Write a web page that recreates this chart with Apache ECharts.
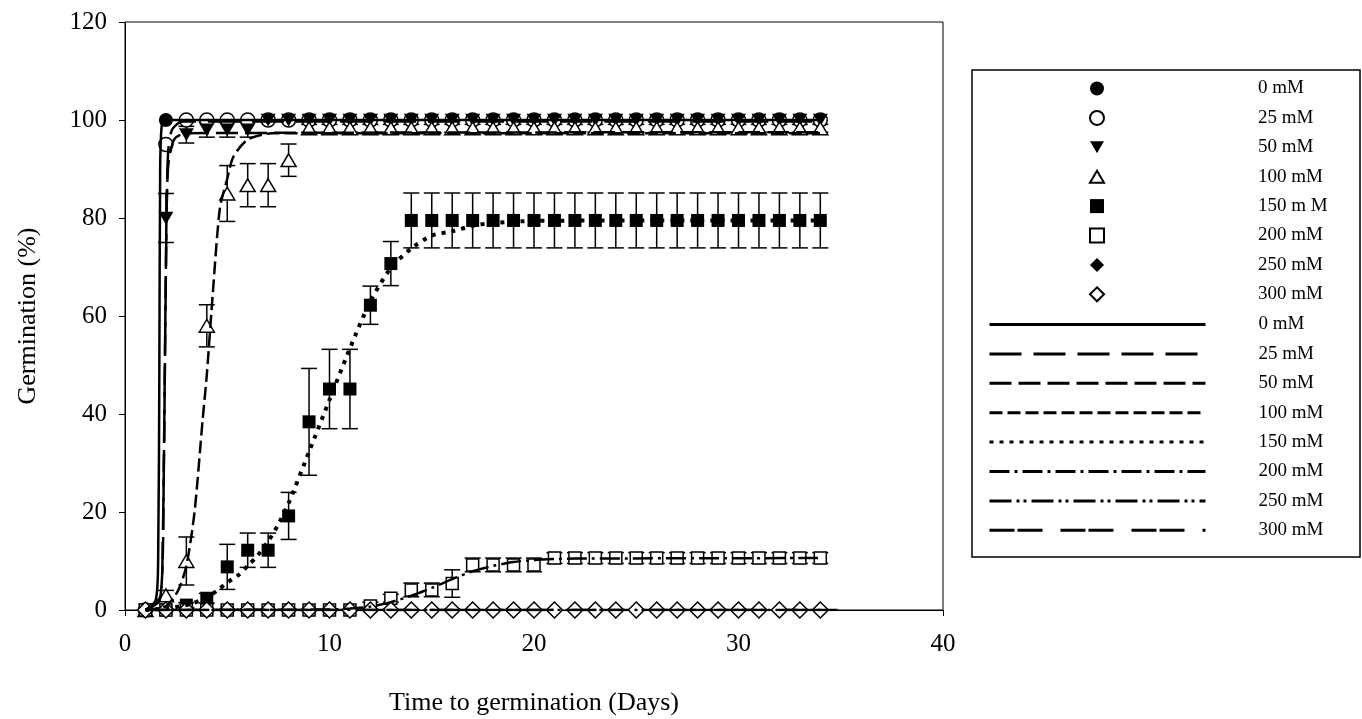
<!DOCTYPE html>
<html>
<head>
<meta charset="utf-8">
<script src="https://cdn.jsdelivr.net/npm/echarts@6/dist/echarts.min.js"></script>
<style>
  html, body { margin: 0; padding: 0; background: #fff; }
  #container { width: 1362px; height: 719px; }
</style>
</head>
<body>
<div id="container"></div>
<script>
var dom = document.getElementById("container");
var myChart = echarts.init(dom);

// observed germination (%) per day
var days = [1,2,3,4,5,6,7,8,9,10,11,12,13,14,15,16,17,18,19,20,21,22,23,24,25,26,27,28,29,30,31,32,33,34];
var g0   = [0,100,100,100,100,100,100,100,100,100,100,100,100,100,100,100,100,100,100,100,100,100,100,100,100,100,100,100,100,100,100,100,100,100];
var g25  = [0,95,100,100,100,100,100,100,100,100,100,100,100,100,100,100,100,100,100,100,100,100,100,100,100,100,100,100,100,100,100,100,100,100];
var g50  = [0,80,97,98,98,98,100,100,100,100,100,100,100,100,100,100,100,100,100,100,100,100,100,100,100,100,100,100,100,100,100,100,100,100];
var g100 = [0,3,10,58,85,86.7,86.7,91.8,98.3,98.3,98.3,98.3,98.3,98.3,98.3,98.3,98.3,98.3,98.3,98.3,98.3,98.3,98.3,98.3,98.3,98.3,98.3,98.3,98.3,98.3,98.3,98.3,98.3,98.3];
var g150 = [0,0,1,2.4,8.8,12.2,12.2,19.2,38.4,45.1,45.1,62.2,70.7,79.5,79.5,79.5,79.5,79.5,79.5,79.5,79.5,79.5,79.5,79.5,79.5,79.5,79.5,79.5,79.5,79.5,79.5,79.5,79.5,79.5];
var g200 = [0,0,0,0,0,0,0,0,0,0,0,0.8,2.4,4.1,4.1,5.4,9.2,9.2,9.2,9.2,10.6,10.6,10.6,10.6,10.6,10.6,10.6,10.6,10.6,10.6,10.6,10.6,10.6,10.6];
var g250 = [0,0,0,0,0,0,0,0,0,0,0,0,0,0,0,0,0,0,0,0,0,0,0,0,0,0,0,0,0,0,0,0,0,0];
var g300 = [0,0,0,0,0,0,0,0,0,0,0,0,0,0,0,0,0,0,0,0,0,0,0,0,0,0,0,0,0,0,0,0,0,0];

// error bar half-lengths
var e50  = [0,5,1.7,1.5,1.5,1.5,0,0,0,0,0,0,0,0,0,0,0,0,0,0,0,0,0,0,0,0,0,0,0,0,0,0,0,0];
var e100 = [0,1,4.9,4.3,5.7,4.4,4.4,3.3,0.8,0.8,0.8,0.8,0.8,0.8,0.8,0.8,0.8,0.8,0.8,0.8,0.8,0.8,0.8,0.8,0.8,0.8,0.8,0.8,0.8,0.8,0.8,0.8,0.8,0.8];
var e150 = [0,0,0.5,1,4.6,3.5,3.5,4.8,10.9,8.1,8.1,3.9,4.5,5.6,5.6,5.6,5.6,5.6,5.6,5.6,5.6,5.6,5.6,5.6,5.6,5.6,5.6,5.6,5.6,5.6,5.6,5.6,5.6,5.6];
var e200 = [0,0,0,0,0,0,0,0,0,0,0,0.8,0.8,1.4,1.4,2.8,1.4,1.4,1.4,1.4,1.1,1.1,1.1,1.1,1.1,1.1,1.1,1.1,1.1,1.1,1.1,1.1,1.1,1.1];

// fitted curves
var fit0x   = [1,1.5,1.62,1.68,1.72,1.8,2,34];
var fit0y   = [0,2,10,50,90,99,100,100];
var fit25x  = [1,1.7,1.85,1.95,2.05,2.12,2.3,2.8,34];
var fit25y  = [0,2,15,50,85,94,98,99.7,99.7];
var fit50x  = [1,1.75,1.9,2,2.1,2.4,3,34];
var fit50y  = [0,3,30,70,90,96,97.3,97.5];
var fit100x = [1,2,2.6,3,3.4,3.8,4,4.3,4.64,5,5.3,6,7.2,34];
var fit100y = [0,0.8,4,9,20,39,48,65,82,88,92.5,96,97.3,97.3];
var fit150x = [1,2,3,4,4.6,5,5.6,6,6.5,7,7.5,8,9,10,11,12,13,14,15,16,17,18,20,25,34];
var fit150y = [0,0.3,1,2.5,4.3,5.6,7.3,9,11.2,14,17.5,21.8,32.3,42.9,53.4,63,69.8,73.8,76.4,77.3,78.4,79,79.4,79.5,79.5];
var fit200x = [1,10,11,12,13,14,15,16,17,18,19,20,21,22,34];
var fit200y = [0,0.1,0.3,0.7,1.6,2.9,4.5,6.3,7.9,9,9.8,10.2,10.4,10.5,10.6];
var fit250x = [1,34];
var fit250y = [0,0];
var fit300x = [1,35];
var fit300y = [0,0];

var markerNames = ["0 mM", "25 mM", "50 mM", "100 mM", "150 m M", "200 mM", "250 mM", "300 mM"];
var lineNames = ["0 mM", "25 mM", "50 mM", "100 mM", "150 mM", "200 mM", "250 mM", "300 mM"];

var font = "Liberation Serif";
var downTri = "path://M0,0L20,0L10,17Z";
var upTri = "path://M10,0L20,17L0,17Z";

function pairs(xs, ys) {
  return xs.map(function (x, i) {
    return [x, ys[i]];
  });
}

function marker(name, values, symbol, size, filled) {
  return {
    name: name,
    type: "scatter",
    data: pairs(days, values),
    symbol: symbol,
    symbolSize: size,
    symbolKeepAspect: true,
    z: 3,
    itemStyle: filled
      ? { color: "#000", opacity: 1 }
      : { color: "#fff", borderColor: "#000", borderWidth: 1.5, opacity: 1 },
    emphasis: { disabled: true },
  };
}

function fitLine(name, xs, ys, dash, width) {
  return {
    name: name + " fit",
    type: "line",
    data: pairs(xs, ys),
    symbol: "none",
    smooth: 0.25,
    z: 4,
    itemStyle: { color: "#000" },
    lineStyle: { color: "#000", width: width || 2.5, type: dash, cap: "butt" },
  };
}

function errorBars(values, errs) {
  var data = [];
  days.forEach(function (d, i) {
    if (errs[i] > 0) data.push([d, values[i], errs[i]]);
  });
  return {
    type: "custom",
    z: 2,
    silent: true,
    data: data,
    renderItem: function (params, api) {
      var x = api.value(0);
      var y = api.value(1);
      var e = api.value(2);
      var top = api.coord([x, y + e]);
      var bot = api.coord([x, y - e]);
      var w = 8;
      var st = { stroke: "#000", lineWidth: 1.5 };
      return {
        type: "group",
        children: [
          { type: "line", shape: { x1: top[0], y1: top[1], x2: bot[0], y2: bot[1] }, style: st },
          { type: "line", shape: { x1: top[0] - w, y1: top[1], x2: top[0] + w, y2: top[1] }, style: st },
          { type: "line", shape: { x1: bot[0] - w, y1: bot[1], x2: bot[0] + w, y2: bot[1] }, style: st },
        ],
      };
    },
  };
}

var series = [
  errorBars(g50, e50),
  errorBars(g100, e100),
  errorBars(g150, e150),
  errorBars(g200, e200),
  marker(markerNames[0], g0, "circle", 14, true),
  marker(markerNames[1], g25, "circle", 14, false),
  marker(markerNames[2], g50, downTri, 15, true),
  marker(markerNames[3], g100, upTri, 15, false),
  marker(markerNames[4], g150, "rect", 13, true),
  marker(markerNames[5], g200, "rect", 12, false),
  marker(markerNames[6], g250, "diamond", 16, true),
  marker(markerNames[7], g300, "diamond", 16, false),
  fitLine(lineNames[0], fit0x, fit0y, "solid"),
  fitLine(lineNames[1], fit25x, fit25y, [32, 12]),
  fitLine(lineNames[2], fit50x, fit50y, [22, 7]),
  fitLine(lineNames[3], fit100x, fit100y, [13, 5]),
  fitLine(lineNames[4], fit150x, fit150y, [4, 6], 4),
  fitLine(lineNames[5], fit200x, fit200y, [20, 5, 3, 5]),
  fitLine(lineNames[6], fit250x, fit250y, [22, 5, 3, 4, 3, 5]),
  fitLine(lineNames[7], fit300x, fit300y, [25, 3, 25, 18]),
];

var option = {
  backgroundColor: "#fff",
  animation: false,
  textStyle: { fontFamily: font, color: "#000" },
  grid: {
    left: 125,
    top: 22,
    right: 419,
    bottom: 109,
    outerBoundsMode: "none",
    show: true,
    borderColor: "#000",
    borderWidth: 1,
  },
  graphic: [
    {
      type: "rect",
      shape: { x: 972, y: 70, width: 388, height: 487 },
      style: { fill: "none", stroke: "#000", lineWidth: 1.5 },
      z: 0,
    },
  ],
  legend: [
    {
      data: markerNames,
      orient: "vertical",
      left: 1089,
      top: 79,
      padding: 0,
      itemWidth: 14,
      itemHeight: 14,
      itemGap: 10.4,
      selectedMode: false,
      textStyle: {
        fontFamily: font,
        fontSize: 19,
        color: "#000",
        padding: [0, 0, 0, 149],
      },
    },
    {
      data: lineNames.map(function (n) { return n + " fit"; }),
      orient: "vertical",
      left: 988,
      top: 315,
      padding: 0,
      itemWidth: 216,
      itemHeight: 12,
      itemGap: 10.4,
      selectedMode: false,
      itemStyle: { opacity: 0, borderWidth: 0 },
      lineStyle: { width: 3, color: "#000" },
      formatter: function (name) {
        return name.replace(" fit", "");
      },
      textStyle: {
        fontFamily: font,
        fontSize: 19,
        color: "#000",
        padding: [0, 0, 0, 48],
      },
    },
  ],
  xAxis: {
    type: "value",
    min: 0,
    max: 40,
    interval: 10,
    name: "Time to germination (Days)",
    nameLocation: "middle",
    nameGap: 80,
    nameTextStyle: { fontFamily: font, fontSize: 26, color: "#000" },
    axisLine: { lineStyle: { color: "#000", width: 1 } },
    axisTick: { show: true, inside: false, length: 6, lineStyle: { color: "#000" } },
    axisLabel: { fontFamily: font, fontSize: 25, color: "#000", margin: 22 },
    splitLine: { show: false },
  },
  yAxis: {
    type: "value",
    min: 0,
    max: 120,
    interval: 20,
    name: "Germination (%)",
    nameLocation: "middle",
    nameGap: 84,
    nameTextStyle: { fontFamily: font, fontSize: 26, color: "#000" },
    axisLine: { show: true, lineStyle: { color: "#000", width: 1 } },
    axisTick: { show: true, inside: false, length: 6, lineStyle: { color: "#000" } },
    axisLabel: { fontFamily: font, fontSize: 25, color: "#000", margin: 18 },
    splitLine: { show: false },
  },
  series: series,
};

if (option && typeof option === "object") {
  myChart.setOption(option);
}
</script>
</body>
</html>
